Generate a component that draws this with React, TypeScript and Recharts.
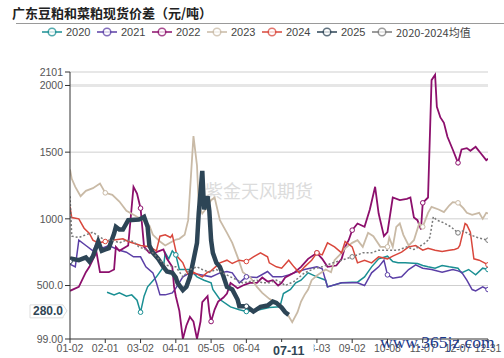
import React from 'react';
import { LineChart, Line, XAxis, YAxis, CartesianGrid, ReferenceLine } from 'recharts';

type Pt = [number, number];

// x = trading-day index within the year (0 = 01-02, 237 = 12-31)
const xTicks = [0, 20, 40, 60, 80, 100, 120, 140, 160, 180, 200, 220, 237];
const xLabels = ['01-02', '02-01', '03-02', '04-01', '05-05', '06-04', '07-04', '08-03', '09-02', '10-08', '11-07', '12-07', '12-31'];
const yTicks = [99, 500, 1000, 1500, 2000, 2101];
const yLabels = ['99.00', '500.0', '1000', '1500', '2000', '2101'];

// crosshair position shown in the reference (last 2025 point)
const pointerDay = 124;
const pointerDayLabel = '07-11';
const pointerValue = 280;

const s2020: Pt[] = [
  [21, 450], [25, 430], [28, 445], [32, 420], [35, 430], [38, 390], [40, 300], [42, 420], [44, 490], [49, 565],
  [53, 640], [54, 745], [56, 700], [58, 760], [60, 730], [62, 620], [68, 620], [72, 565], [76, 540], [80, 520],
  [81, 470], [85, 395], [91, 340], [96, 318], [100, 305], [108, 320], [113, 335], [119, 340], [121, 440], [125, 470],
  [128, 520], [131, 540], [135, 595], [140, 565], [145, 540], [146, 490], [154, 520], [160, 525], [163, 525], [167, 565],
  [171, 640], [175, 700], [180, 720], [183, 680], [186, 670], [190, 670], [197, 665], [200, 650], [203, 640], [207, 630],
  [211, 650], [215, 640], [220, 630], [222, 595], [226, 620], [230, 580], [234, 630], [237, 620],
];

const s2021: Pt[] = [
  [0, 660], [3, 640], [5, 840], [9, 800], [13, 760], [16, 840], [18, 780], [20, 790], [22, 800], [28, 765],
  [32, 750], [36, 715], [40, 715], [43, 640], [47, 595], [49, 520], [51, 430], [54, 430], [58, 445], [60, 480],
  [64, 565], [68, 595], [74, 580], [80, 565], [85, 595], [89, 605], [92, 595], [96, 520], [100, 565], [106, 560],
  [112, 605], [115, 565], [120, 565], [124, 580], [127, 595], [133, 620], [140, 640], [143, 625], [146, 490], [154, 520],
  [160, 520], [163, 520], [167, 500], [171, 595], [175, 640], [178, 690], [180, 580], [183, 555], [188, 565], [192, 620],
  [196, 655], [200, 630], [205, 620], [211, 600], [217, 620], [220, 610], [222, 600], [225, 540], [228, 470], [230, 460],
  [234, 490], [237, 470],
];

const s2022: Pt[] = [
  [0, 460], [5, 490], [9, 600], [11, 640], [15, 750], [17, 600], [20, 600], [22, 600], [25, 620], [26, 790],
  [28, 760], [33, 800], [36, 1240], [38, 1190], [40, 1080], [42, 790], [45, 745], [49, 750], [53, 770], [55, 700],
  [58, 640], [59, 490], [60, 420], [62, 310], [64, 100], [66, 200], [68, 265], [70, 230], [72, 100], [74, 230],
  [75, 375], [78, 420], [79, 300], [80, 230], [82, 320], [84, 380], [87, 410], [89, 440], [91, 520], [95, 480],
  [98, 500], [100, 510], [102, 520], [106, 520], [109, 560], [112, 530], [115, 540], [118, 500], [120, 520], [122, 560],
  [127, 595], [131, 640], [135, 700], [140, 745], [143, 700], [146, 640], [151, 650], [154, 700], [156, 790], [158, 840],
  [160, 915], [163, 965], [167, 940], [170, 1070], [173, 1240], [175, 1040], [178, 870], [180, 900], [183, 1160], [187, 1140],
  [191, 1150], [193, 1160], [195, 1010], [197, 990], [199, 920], [200, 1120], [203, 1160], [205, 2040], [207, 2080], [208, 1840],
  [210, 1760], [212, 1720], [214, 1615], [217, 1520], [220, 1420], [222, 1520], [225, 1530], [227, 1510], [230, 1540], [233, 1490],
  [236, 1440], [237, 1450],
];

const s2023: Pt[] = [
  [0, 1370], [1, 1300], [3, 1240], [6, 1170], [9, 1210], [13, 1230], [17, 1265], [20, 1195], [24, 1180], [28, 1130],
  [32, 1060], [36, 1030], [40, 1000], [45, 950], [47, 880], [51, 830], [54, 800], [58, 830], [60, 845], [62, 850],
  [65, 880], [67, 990], [68, 1200], [70, 1620], [72, 1400], [73, 1100], [75, 1040], [78, 1090], [80, 1140], [82, 1160],
  [85, 990], [89, 895], [92, 820], [95, 715], [98, 600], [100, 580], [102, 565], [106, 490], [109, 445], [113, 400],
  [117, 370], [120, 340], [121, 320], [124, 270], [126, 225], [129, 300], [131, 380], [133, 430], [135, 470], [137, 540],
  [140, 575], [145, 620], [148, 600], [150, 690], [154, 745], [156, 780], [160, 820], [163, 840], [166, 790], [169, 895],
  [172, 870], [176, 790], [180, 790], [181, 860], [183, 790], [185, 940], [187, 965], [189, 880], [192, 800], [195, 840],
  [198, 965], [200, 940], [203, 1045], [205, 1090], [209, 1070], [212, 1050], [215, 1100], [217, 1125], [220, 1120], [223, 1080],
  [225, 1045], [228, 1030], [232, 1045], [234, 1000], [236, 1045], [237, 1040],
];

const s2024: Pt[] = [
  [0, 1090], [1, 1010], [5, 1000], [8, 930], [11, 890], [13, 840], [16, 820], [20, 830], [24, 840], [30, 850],
  [33, 830], [38, 810], [40, 800], [45, 790], [49, 760], [51, 870], [54, 880], [57, 860], [58, 880], [60, 760],
  [61, 715], [64, 670], [66, 605], [68, 565], [70, 600], [75, 565], [78, 600], [80, 610], [85, 670], [89, 690],
  [92, 665], [96, 690], [100, 680], [104, 715], [108, 745], [112, 715], [113, 670], [117, 640], [120, 630], [124, 690],
  [127, 640], [130, 595], [133, 640], [137, 690], [140, 745], [143, 730], [146, 820], [150, 790], [154, 745], [156, 830],
  [160, 790], [163, 670], [167, 690], [171, 670], [175, 715], [180, 700], [183, 720], [188, 750], [192, 790], [196, 800],
  [200, 765], [203, 780], [207, 765], [211, 755], [215, 765], [218, 770], [220, 780], [221, 800], [224, 965], [225, 955],
  [227, 900], [229, 700], [232, 690], [235, 670], [237, 655],
];

const s2025: Pt[] = [
  [0, 680], [1, 700], [5, 690], [9, 710], [11, 680], [13, 720], [16, 830], [18, 760], [20, 770], [22, 780],
  [25, 890], [26, 940], [28, 920], [30, 920], [33, 990], [39, 995], [40, 1000], [42, 1015], [44, 940], [45, 800],
  [47, 745], [50, 700], [53, 640], [55, 605], [58, 595], [60, 560], [61, 520], [64, 465], [66, 490], [68, 565],
  [70, 690], [72, 820], [73, 1045], [75, 1360], [76, 1070], [78, 1170], [79, 1060], [80, 840], [81, 745], [83, 670],
  [85, 640], [87, 570], [89, 490], [92, 470], [95, 395], [96, 345], [100, 345], [104, 305], [108, 340], [112, 350],
  [115, 380], [117, 370], [120, 335], [122, 300], [124, 280],
];

const sAvg: Pt[] = [
  [0, 1170], [1, 870], [5, 860], [9, 880], [13, 900], [16, 870], [20, 840], [24, 840], [28, 820], [32, 840],
  [36, 830], [39, 790], [40, 785], [43, 770], [47, 745], [51, 690], [54, 655], [58, 640], [60, 640], [64, 565],
  [68, 620], [72, 640], [75, 620], [79, 600], [80, 605], [83, 620], [91, 565], [95, 540], [98, 520], [100, 525],
  [106, 540], [109, 520], [113, 520], [117, 540], [120, 520], [122, 500], [127, 530], [133, 595], [139, 630], [140, 632],
  [143, 640], [149, 670], [154, 690], [160, 715], [166, 745], [171, 745], [175, 765], [180, 765], [186, 765], [191, 790],
  [195, 770], [199, 800], [200, 805], [203, 840], [204, 860], [206, 1015], [208, 990], [212, 970], [216, 940], [220, 895],
  [223, 910], [227, 880], [231, 860], [237, 840],
];

// days where a hollow marker is visible in the reference
const marks2020 = [40, 60, 100, 237];
const marks2021 = [100, 180, 237];
const marks2022 = [40, 80, 140, 160, 200, 220];
const marks2023 = [20, 180, 200, 220];
const marks2024 = [20, 100, 140, 237];
const marks2025 = [0, 100];
const marksAvg = [160, 220, 237];

const series = [
  { name: '2020', pts: s2020, marks: marks2020, color: '#1a8f93', width: 1.5, dash: undefined },
  { name: '2021', pts: s2021, marks: marks2021, color: '#5b3fa6', width: 1.5, dash: undefined },
  { name: '2022', pts: s2022, marks: marks2022, color: '#8c0f6c', width: 1.8, dash: undefined },
  { name: '2023', pts: s2023, marks: marks2023, color: '#c9baa6', width: 1.8, dash: undefined },
  { name: '2024', pts: s2024, marks: marks2024, color: '#d9473c', width: 1.5, dash: undefined },
  { name: '2025', pts: s2025, marks: marks2025, color: '#2d4556', width: 4.5, dash: undefined },
  { name: '2020-2024均值', pts: sAvg, marks: marksAvg, color: '#7a7a7a', width: 1.5, dash: '2 2' },
];

const PLOT = { left: 70, right: 488, top: 72, bottom: 339 };
const X_MAX = 237;
const Y_MIN = 99;
const Y_MAX = 2101;
const xPos = (d: number) => PLOT.left + (d / X_MAX) * (PLOT.right - PLOT.left);
const yPos = (v: number) => PLOT.bottom - ((v - Y_MIN) / (Y_MAX - Y_MIN)) * (PLOT.bottom - PLOT.top);

const markDot = (color: string, marks: number[]) => (props: any) => {
  const { cx, cy, payload, index } = props;
  const key = `d-${color}-${index}`;
  if (!marks.includes(payload.d)) return <g key={key} />;
  return <circle key={key} cx={cx} cy={cy} r={2.3} fill="#fff" stroke={color} strokeWidth={1} />;
};

export default function App() {
  const px = xPos(pointerDay);
  const py = yPos(pointerValue);
  return (
    <div style={{ position: 'fixed', left: 0, top: 0, width: 504, height: 358, background: '#fff', fontFamily: '"Liberation Sans", Arial, sans-serif', overflow: 'hidden' }}>
      <div style={{ position: 'absolute', left: 12, top: 5, fontSize: 13, lineHeight: '16px', fontWeight: 'bold', color: '#222', fontFamily: '"Noto Sans CJK SC", sans-serif', whiteSpace: 'nowrap' }}>
        广东豆粕和菜粕现货价差（元/吨）
      </div>
      <div style={{ position: 'absolute', left: 16, top: 23, width: 488, height: 1, background: '#9a9a9a' }} />
      {series.map((s, i) => (
        <div key={s.name} style={{ position: 'absolute', left: 42 + 55 * i, top: 25, height: 14, display: 'flex', alignItems: 'center', fontSize: 11, color: '#444', whiteSpace: 'nowrap' }}>
          <svg width={20} height={10} style={{ marginRight: 4 }}>
            <line x1={0} y1={5} x2={20} y2={5} stroke={s.color} strokeWidth={2} opacity={0.75} />
            <circle cx={10} cy={5} r={3.8} fill="#fff" stroke={s.color} strokeWidth={1.5} opacity={0.75} />
          </svg>
          <span style={{ fontFamily: s.name.length > 4 ? '"Noto Sans CJK SC", sans-serif' : undefined }}>{s.name}</span>
        </div>
      ))}
      <div style={{ position: 'absolute', left: 205, top: 181, fontSize: 18, lineHeight: '18px', color: '#dcdcdc', fontFamily: '"Noto Sans CJK SC", sans-serif', whiteSpace: 'nowrap' }}>
        紫金天风期货
      </div>
      <div style={{ position: 'absolute', left: 0, top: 0 }}>
        <LineChart width={504} height={358} margin={{ top: PLOT.top, right: 504 - PLOT.right, bottom: 0, left: 0 }}>
          <CartesianGrid vertical={false} horizontalValues={[500, 1000, 1500, 2101]} stroke="#cfcfcf" />
          <ReferenceLine y={2000} stroke="#e6e6e6" strokeWidth={3} />
          <XAxis
            dataKey="d"
            type="number"
            domain={[0, X_MAX]}
            ticks={xTicks}
            interval={0}
            height={358 - PLOT.bottom}
            tickFormatter={(v: number) => xLabels[xTicks.indexOf(v)] ?? ''}
            tick={{ fontSize: 10.5, fill: '#555' }}
            tickSize={4}
            stroke="#333"
            allowDataOverflow
          />
          <YAxis
            type="number"
            domain={[Y_MIN, Y_MAX]}
            ticks={yTicks}
            interval={0}
            width={PLOT.left}
            tickFormatter={(v: number) => yLabels[yTicks.indexOf(v)] ?? ''}
            tick={{ fontSize: 10.5, fill: '#555' }}
            tickSize={5}
            stroke="#333"
            allowDataOverflow
          />
          {series.map((s) => (
            <Line
              key={s.name}
              data={s.pts.map(([d, v]) => ({ d, v }))}
              dataKey="v"
              name={s.name}
              type="linear"
              stroke={s.color}
              strokeWidth={s.width}
              strokeDasharray={s.dash}
              dot={markDot(s.color, s.marks)}
              activeDot={false}
              isAnimationActive={false}
            />
          ))}
        </LineChart>
      </div>
      {/* axis-pointer labels */}
      <svg width={504} height={358} style={{ position: 'absolute', left: 0, top: 0, pointerEvents: 'none' }}>
        <rect x={px - 22} y={PLOT.bottom + 3} width={47} height={18} fill="#fff" />
        <text x={px} y={PLOT.bottom + 16} textAnchor="middle" fontSize={12.5} fontWeight="bold" fill="#2f4554">{pointerDayLabel}</text>
        <path
          d={`M${PLOT.left - 40} ${py - 10} H${PLOT.left - 7} L${PLOT.left - 3} ${py - 4} L${PLOT.left - 7} ${py + 2} V${py + 3} H${PLOT.left - 40} Z`}
          fill="#fff"
          stroke="#ddd"
        />
        <text x={PLOT.left - 22} y={py} textAnchor="middle" fontSize={12} fontWeight="bold" fill="#2f4554">{pointerValue.toFixed(1)}</text>
      </svg>
      <div style={{ position: 'absolute', left: 380, top: 333, fontSize: 17.5, lineHeight: '18px', color: '#1b3a8c', fontFamily: '"Liberation Serif", serif', whiteSpace: 'nowrap' }}>
        www.365jz.com
      </div>
    </div>
  );
}
